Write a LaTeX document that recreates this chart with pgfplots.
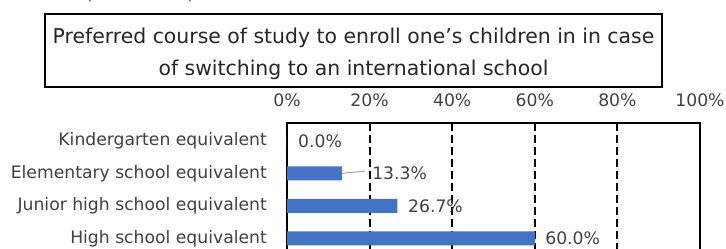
\documentclass[border=0pt]{standalone}
\usepackage{pgfplots}
\pgfplotsset{compat=1.18}
\usepackage{fontspec}
\setmainfont{DejaVu Sans}
\definecolor{barblue}{HTML}{4472C4}
\definecolor{txt}{HTML}{404040}
\definecolor{leader}{HTML}{A6A6A6}
\begin{document}
\begin{tikzpicture}
\path[use as bounding box] (0,0) rectangle (726pt,-249pt);
\clip (0,0) rectangle (726pt,-249pt);
% partial heading cut at top
\node[anchor=base, font=\fontsize{17}{20}\selectfont, text=txt] at (140pt,0.5pt) {(\hspace{95pt})};
% title box
\draw[line width=1.4pt] (45pt,-14pt) rectangle (662pt,-87pt);
\node[anchor=base, font=\fontsize{20.4}{24}\selectfont, text=black!85] at (353.5pt,-43.3pt)
  {Preferred course of study to enroll one’s children in in case};
\node[anchor=base, font=\fontsize{20.4}{24}\selectfont, text=black!85] at (353.5pt,-75pt)
  {of switching to an international school};
\begin{axis}[
  at={(287pt,-123pt)}, anchor=north west, scale only axis,
  width=413pt, height=164pt,
  xmin=0, xmax=100, ymin=-4.5, ymax=0.55,
  xtick={0,20,40,60,80,100},
  xticklabel={\pgfmathprintnumber{\tick}\%},
  xticklabel pos=upper,
  xticklabel style={anchor=south, inner sep=0pt, text depth=0pt, yshift=16pt, font=\fontsize{17.2}{19}\selectfont, text=txt},
  ytick={0,-1,-2,-3},
  yticklabels={Kindergarten equivalent, Elementary school equivalent, Junior high school equivalent, High school equivalent},
  yticklabel style={anchor=east, inner sep=0pt, xshift=-20pt, font=\fontsize{17.2}{19}\selectfont, text=txt},
  major tick length=0pt,
  /pgf/number format/assume math mode=true,
  xmajorgrids,
  grid style={black, line width=2pt, dash pattern=on 8pt off 4pt},
  axis line style={black, line width=1.4pt},
]
\addplot[xbar, bar width=14pt, fill=barblue, draw=none] coordinates {
  (0.0,0) (13.3,-1) (26.7,-2) (60.0,-3)
};
\draw[leader, line width=1pt] (axis cs:13.3,-1) -- (axis cs:18.9,-0.93);
\addplot[draw=none, mark=none, nodes near coords, point meta=explicit symbolic,
  nodes near coords align=horizontal,
  every node near coord/.style={anchor=west, inner sep=0pt, text depth=0pt, font=\fontsize{17.2}{19}\selectfont, text=txt}]
  coordinates {
  (2.66,0) [0.0\%]
  (20.6,-1) [13.3\%]
  (29.3,-2) [26.7\%]
  (62.5,-3) [60.0\%]
};
\end{axis}
\end{tikzpicture}
\end{document}
